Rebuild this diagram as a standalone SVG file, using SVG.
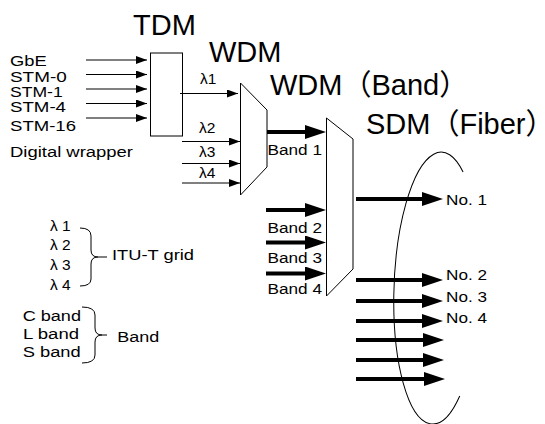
<svg xmlns="http://www.w3.org/2000/svg" width="545" height="424" viewBox="0 0 545 424">
<style>
text{font-family:"Liberation Sans","Noto Sans CJK JP",Arial,sans-serif;fill:#000}
.t{font-size:29px}
.s{font-size:15.5px}
.shape{fill:#fff;stroke:#000;stroke-width:1}
.thin{stroke:#000;stroke-width:1;fill:none;marker-end:url(#ah)}
.thick{stroke:#000;stroke-width:4;fill:none;marker-end:url(#AH)}
.br{fill:none;stroke:#000;stroke-width:1}
</style>
<defs>
<marker id="ah" markerUnits="userSpaceOnUse" markerWidth="11" markerHeight="8" refX="11" refY="4" orient="auto"><path d="M0,0 L11,4 L0,8 z" fill="#000"/></marker>
<marker id="AH" markerUnits="userSpaceOnUse" markerWidth="21" markerHeight="14" refX="11" refY="7" orient="auto"><path d="M0,0 L21,7 L0,14 z" fill="#000"/></marker>
</defs>
<rect width="545" height="424" fill="#fff"/>

<g id="titles">
<text class="t" x="133" y="35">TDM</text>
<text class="t" x="209" y="62">WDM</text>
<text class="t" x="270" y="95">WDM（Band）</text>
<text class="t" x="366" y="133.5">SDM（Fiber）</text>
</g>

<g id="inputs">
<text class="s" x="10" y="66" textLength="36.7" lengthAdjust="spacingAndGlyphs">GbE</text>
<text class="s" x="10" y="82" textLength="56.7" lengthAdjust="spacingAndGlyphs">STM-0</text>
<text class="s" x="10" y="97" textLength="52.7" lengthAdjust="spacingAndGlyphs">STM-1</text>
<text class="s" x="10" y="112" textLength="56" lengthAdjust="spacingAndGlyphs">STM-4</text>
<text class="s" x="10" y="130.5" textLength="66" lengthAdjust="spacingAndGlyphs">STM-16</text>
<text class="s" x="10" y="157" textLength="123" lengthAdjust="spacingAndGlyphs">Digital wrapper</text>
</g>

<g id="tdm">
<rect class="shape" x="150.5" y="53" width="32" height="83"/>
</g>

<g id="wdm">
<polygon class="shape" points="240.5,83 267,110 267,167 240.5,195"/>
</g>

<g id="wdm-band">
<polygon class="shape" points="326.5,118 353,139 353,269 326.5,296"/>
</g>

<g id="sdm-fiber">
<path class="br" transform="rotate(2 437 288)" d="M459,171.2 A43,136 0 1 0 463.5,395.1"/>
</g>

<g id="connectors">
<line class="thin" x1="86" y1="60" x2="147" y2="60"/>
<line class="thin" x1="86" y1="74.5" x2="147" y2="74.5"/>
<line class="thin" x1="86" y1="89" x2="147" y2="89"/>
<line class="thin" x1="86" y1="103.5" x2="147" y2="103.5"/>
<line class="thin" x1="86" y1="118" x2="147" y2="118"/>
<line class="thin" x1="180" y1="93.5" x2="238" y2="93.5"/>
<line class="thin" x1="182" y1="141.5" x2="240" y2="141.5"/>
<line class="thin" x1="182" y1="163.5" x2="240" y2="163.5"/>
<line class="thin" x1="182" y1="183" x2="240" y2="183"/>
<line class="thick" x1="267" y1="132" x2="316" y2="132"/>
<line class="thick" x1="266" y1="210" x2="316" y2="210"/>
<line class="thick" x1="266" y1="242.5" x2="316" y2="242.5"/>
<line class="thick" x1="266" y1="273.5" x2="316" y2="273.5"/>
<line class="thick" x1="356" y1="199" x2="433" y2="199"/>
<line class="thick" x1="356" y1="280" x2="433" y2="280"/>
<line class="thick" x1="356" y1="301" x2="433" y2="301"/>
<line class="thick" x1="356" y1="321" x2="433" y2="321"/>
<line class="thick" x1="356" y1="340" x2="434" y2="340"/>
<line class="thick" x1="356" y1="360" x2="434" y2="360"/>
<line class="thick" x1="356" y1="379" x2="435" y2="379"/>
</g>

<g id="labels">
<text class="s" x="200" y="84">λ1</text>
<text class="s" x="199" y="133.3">λ2</text>
<text class="s" x="199" y="156.7">λ3</text>
<text class="s" x="199" y="178.3">λ4</text>
<text class="s" x="267.5" y="155" textLength="54.5" lengthAdjust="spacingAndGlyphs">Band 1</text>
<text class="s" x="267.5" y="232.5" textLength="54.5" lengthAdjust="spacingAndGlyphs">Band 2</text>
<text class="s" x="267.5" y="263.3" textLength="54.5" lengthAdjust="spacingAndGlyphs">Band 3</text>
<text class="s" x="267.5" y="294" textLength="54.5" lengthAdjust="spacingAndGlyphs">Band 4</text>
<text class="s" x="446" y="204.5" textLength="41" lengthAdjust="spacingAndGlyphs">No. 1</text>
<text class="s" x="446" y="280" textLength="41" lengthAdjust="spacingAndGlyphs">No. 2</text>
<text class="s" x="446" y="301.7" textLength="41" lengthAdjust="spacingAndGlyphs">No. 3</text>
<text class="s" x="446" y="323" textLength="41" lengthAdjust="spacingAndGlyphs">No. 4</text>
</g>

<g id="legend-itu">
<text class="s" x="50" y="230.5">λ 1</text>
<text class="s" x="50" y="250">λ 2</text>
<text class="s" x="50" y="270">λ 3</text>
<text class="s" x="50" y="289.5">λ 4</text>
<path class="br" d="M80,228 Q91,228 91,236 L91,250 Q91,257 98,257 L107,257 M98,257 Q91,257 91,264 L91,279 Q91,286 80,286"/>
<text class="s" x="112" y="260" textLength="82" lengthAdjust="spacingAndGlyphs">ITU-T grid</text>
</g>

<g id="legend-band">
<text class="s" x="22.7" y="320.7" textLength="58.3" lengthAdjust="spacingAndGlyphs">C band</text>
<text class="s" x="23" y="339.3" textLength="56" lengthAdjust="spacingAndGlyphs">L band</text>
<text class="s" x="22.7" y="357.3" textLength="58" lengthAdjust="spacingAndGlyphs">S band</text>
<path class="br" d="M82,307 Q95,307 95,315 L95,328 Q95,335 102,335 L107,335 M102,335 Q95,335 95,342 L95,355 Q95,363 82,363"/>
<text class="s" x="117.3" y="341.7" textLength="42" lengthAdjust="spacingAndGlyphs">Band</text>
</g>
</svg>
